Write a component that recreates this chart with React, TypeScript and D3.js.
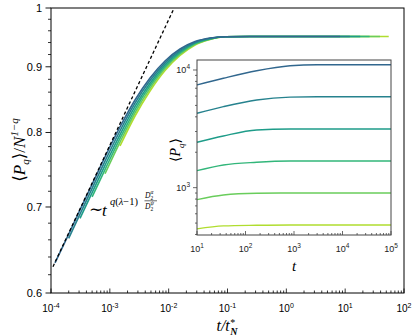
import React from 'react';
import * as d3 from 'd3';

const W = 415;
const H = 336;

// main panel: t / t*_N  vs  <P_q>/N^{1-q}
const mainT = [1.17e-4, 2.0e-4, 3.11e-4, 5.0e-4, 8.28e-4, 1.49e-3, 2.68e-3, 4.82e-3, 8.67e-3, 0.0156, 0.0281, 0.0505, 0.0908, 0.24, 1.16, 8.2, 12, 18, 26, 39, 55];
const mainV1 = [0.6332, 0.6668, 0.6963, 0.7291, 0.7657, 0.808, 0.848, 0.8821, 0.9094, 0.9292, 0.9417, 0.9477, 0.9497, 0.9502, 0.9502, 0.9502, null, null, null, null, null];
const mainV2 = [null, 0.6618, 0.6911, 0.7237, 0.76, 0.8025, 0.8432, 0.878, 0.9063, 0.927, 0.9406, 0.9472, 0.9497, 0.9502, 0.9502, 0.9502, 0.9502, null, null, null, null];
const mainV3 = [null, null, 0.6859, 0.7183, 0.7543, 0.797, 0.8383, 0.8739, 0.9032, 0.9248, 0.9394, 0.9466, 0.9497, 0.9502, 0.9502, 0.9502, 0.9502, 0.9502, null, null, null];
const mainV4 = [null, null, null, 0.7128, 0.7486, 0.7916, 0.8336, 0.8699, 0.9002, 0.9227, 0.9382, 0.9461, 0.9497, 0.9502, 0.9502, 0.9502, 0.9502, 0.9502, 0.9502, null, null];
const mainV5 = [null, null, null, null, 0.743, 0.7863, 0.8288, 0.8658, 0.8971, 0.9205, 0.937, 0.9456, 0.9497, 0.9502, 0.9502, 0.9502, 0.9502, 0.9502, 0.9502, 0.9502, null];
const mainV6 = [null, null, null, null, null, 0.7809, 0.824, 0.8618, 0.894, 0.9184, 0.9359, 0.9451, 0.9497, 0.9502, 0.9502, 0.9502, 0.9502, 0.9502, 0.9502, 0.9502, 0.9502];

// power-law guide
const dashT = [1.08e-4, 1.19e-2];
const dashV = [0.629, 0.996];

// inset: t vs <P_q>
const insetT = [10, 35, 170, 830, 3000, 1e5];
const insetV1 = [7458, 8502, 9864, 10877, 11093, 11093];
const insetV2 = [4285, 4878, 5561, 5885, 5932, 5932];
const insetV3 = [2431, 2750, 3092, 3150, 3153, 3153];
const insetV4 = [1394, 1559, 1644, 1684, 1686, 1686];
const insetV5 = [791, 866, 896, 901, 901, 901];
const insetV6 = [446, 473, 479, 482, 482, 482];

const colorStops = [0.33, 0.44, 0.55, 0.66, 0.77, 0.88];

const mainYMajor = [0.6, 0.7, 0.8, 0.9, 1];
const mainYLabels = ['0.6', '0.7', '0.8', '0.9', '1'];
const mainXExp = ['-4', '-3', '-2', '-1', '0', '1', '2'];
const insetXExp = ['1', '2', '3', '4', '5'];
const insetYExp = ['3', '4'];

const SANS = 'Liberation Sans, Arial, Helvetica, sans-serif';
const SERIF = 'Liberation Serif, Times New Roman, DejaVu Serif, serif';

export default function App() {
  const x = d3.scaleLog().domain([1e-4, 1e2]).range([51, 404]);
  const y = d3.scaleLog().domain([0.6, 1]).range([293, 8]);
  const xi = d3.scaleLog().domain([10, 1e5]).range([197, 391]);
  const yi = d3.scaleLog().domain([396, 12160]).range([235, 60]);

  const mainSeries = [mainV1, mainV2, mainV3, mainV4, mainV5, mainV6];
  const insetSeries = [insetV1, insetV2, insetV3, insetV4, insetV5, insetV6];
  const colors = colorStops.map((c) => d3.interpolateViridis(c));

  const mainLine = d3
    .line<[number, number | null]>()
    .defined((d) => d[1] != null)
    .x((d) => x(d[0]))
    .y((d) => y(d[1] as number))
    .curve(d3.curveMonotoneX);
  const insetLine = d3
    .line<[number, number]>()
    .x((d) => xi(d[0]))
    .y((d) => yi(d[1]))
    .curve(d3.curveMonotoneX);

  const xTicks = x.ticks();
  const isMajor = (v: number) => Math.abs(Math.log10(v) - Math.round(Math.log10(v))) < 1e-6;
  const yMinor = d3.range(0.62, 1.0, 0.02).filter((v) => !mainYMajor.some((m) => Math.abs(m - v) < 1e-6));

  const xiTicks = xi.ticks();
  const yiTicks = yi.ticks();

  const dashData = dashT.map((t, i) => [t, dashV[i]] as [number, number]);

  return (
    <svg width={W} height={H} style={{ position: 'absolute', left: 0, top: 0, background: '#fff' }}>
      {/* main curves */}
      <g fill="none" strokeWidth={1.6}>
        {mainSeries
          .map((s, i) => ({ s, i }))
          .reverse()
          .map(({ s, i }) => (
            <path key={i} d={mainLine(mainT.map((t, k) => [t, s[k]] as [number, number | null])) || ''} stroke={colors[i]} />
          ))}
      </g>
      {/* dashed guide */}
      <path
        d={d3.line<[number, number]>().x((d) => x(d[0])).y((d) => y(d[1]))(dashData) || ''}
        stroke="#000"
        strokeWidth={1.3}
        strokeDasharray="3.2,2.4"
        fill="none"
      />

      {/* main frame */}
      <rect x={51} y={8} width={353} height={285} fill="none" stroke="#000" strokeWidth={1} />
      {/* x ticks inward */}
      {xTicks.map((t, i) => (
        <line key={'xt' + i} x1={x(t)} x2={x(t)} y1={293} y2={isMajor(t) ? 288.5 : 290.5} stroke="#000" strokeWidth={0.8} />
      ))}
      {mainXExp.map((e, i) => {
        const tv = Math.pow(10, +e);
        return (
          <text key={'xl' + i} x={x(tv)} y={312} fontFamily={SANS} fontSize={10} textAnchor="middle" fill="#000">
            10<tspan dy={-4.5} fontSize={7}>{e}</tspan>
          </text>
        );
      })}
      {/* y ticks outward */}
      {mainYMajor.map((v, i) => (
        <g key={'ym' + i}>
          <line x1={45.5} x2={51} y1={y(v)} y2={y(v)} stroke="#000" strokeWidth={0.9} />
          <text x={42} y={y(v) + 4} fontFamily={SANS} fontSize={11} textAnchor="end" fill="#000">
            {mainYLabels[i]}
          </text>
        </g>
      ))}
      {yMinor.map((v, i) => (
        <line key={'yn' + i} x1={48} x2={51} y1={y(v)} y2={y(v)} stroke="#000" strokeWidth={0.8} />
      ))}

      {/* axis labels */}
      <text x={227} y={331} fontFamily={SERIF} fontStyle="italic" fontSize={16} textAnchor="middle" fill="#000">
        t/t<tspan dy={-5} fontSize={10}>*</tspan>
        <tspan dy={9} dx={-4.5} fontSize={10} fontWeight="bold">N</tspan>
      </text>
      <text
        transform="translate(25,150) rotate(-90)"
        fontFamily={SERIF}
        fontStyle="italic"
        fontSize={17}
        textAnchor="middle"
        fill="#000"
      >
        <tspan fontStyle="normal">⟨</tspan>P<tspan dy={4} fontSize={11}>q</tspan>
        <tspan dy={-4} fontStyle="normal">⟩/</tspan>N<tspan dy={-7} fontSize={11}>1−q</tspan>
      </text>

      {/* annotation */}
      <text x={89} y={215} fontFamily={SERIF} fontSize={17} fill="#000">∼</text>
      <text x={102} y={216} fontFamily={SERIF} fontStyle="italic" fontSize={17} fill="#000">t</text>
      <text x={110} y={205} fontFamily={SERIF} fontStyle="italic" fontSize={10.5} fill="#000">
        q<tspan fontStyle="normal">(</tspan>λ<tspan fontStyle="normal">−1)</tspan>
      </text>
      <text x={145} y={197.5} fontFamily={SERIF} fontStyle="italic" fontSize={7.5} fill="#000">D</text>
      <text x={150.5} y={193.5} fontFamily={SERIF} fontStyle="italic" fontSize={5.5} fill="#000">α</text>
      <text x={150.5} y={199.5} fontFamily={SERIF} fontSize={5.5} fill="#000">2</text>
      <line x1={144.5} x2={157} y1={200.8} y2={200.8} stroke="#000" strokeWidth={0.6} />
      <text x={145} y={208.5} fontFamily={SERIF} fontStyle="italic" fontSize={7.5} fill="#000">D</text>
      <text x={150.5} y={204.8} fontFamily={SERIF} fontStyle="italic" fontSize={5.5} fill="#000">ψ</text>
      <text x={150.5} y={211} fontFamily={SERIF} fontSize={5.5} fill="#000">2</text>

      {/* inset */}
      <rect x={197} y={60} width={194} height={175} fill="#fff" stroke="none" />
      <g fill="none" strokeWidth={1.4}>
        {insetSeries.map((s, i) => (
          <path key={'in' + i} d={insetLine(insetT.map((t, k) => [t, s[k]] as [number, number])) || ''} stroke={colors[i]} />
        ))}
      </g>
      <rect x={197} y={60} width={194} height={175} fill="none" stroke="#444" strokeWidth={1} />
      {xiTicks.map((t, i) => (
        <line key={'xit' + i} x1={xi(t)} x2={xi(t)} y1={235} y2={isMajor(t) ? 231 : 233} stroke="#444" strokeWidth={0.8} />
      ))}
      {insetXExp.map((e, i) => (
        <text key={'xil' + i} x={xi(Math.pow(10, +e))} y={252} fontFamily={SANS} fontSize={9} textAnchor="middle" fill="#222">
          10<tspan dy={-4} fontSize={6.5}>{e}</tspan>
        </text>
      ))}
      {yiTicks.map((t, i) => (
        <line key={'yit' + i} x1={isMajor(t) ? 193 : 195} x2={197} y1={yi(t)} y2={yi(t)} stroke="#444" strokeWidth={0.8} />
      ))}
      {insetYExp.map((e, i) => (
        <text key={'yil' + i} x={190} y={yi(Math.pow(10, +e)) + 3.5} fontFamily={SANS} fontSize={9} textAnchor="end" fill="#222">
          10<tspan dy={-4} fontSize={6.5}>{e}</tspan>
        </text>
      ))}
      <text x={294} y={270.5} fontFamily={SERIF} fontStyle="italic" fontSize={15} textAnchor="middle" fill="#000">
        t
      </text>
      <text
        transform="translate(180,150) rotate(-90)"
        fontFamily={SERIF}
        fontStyle="italic"
        fontSize={14}
        textAnchor="middle"
        fill="#000"
      >
        <tspan fontStyle="normal">⟨</tspan>P<tspan dy={3.5} fontSize={9}>q</tspan>
        <tspan dy={-3.5} fontStyle="normal">⟩</tspan>
      </text>
    </svg>
  );
}
